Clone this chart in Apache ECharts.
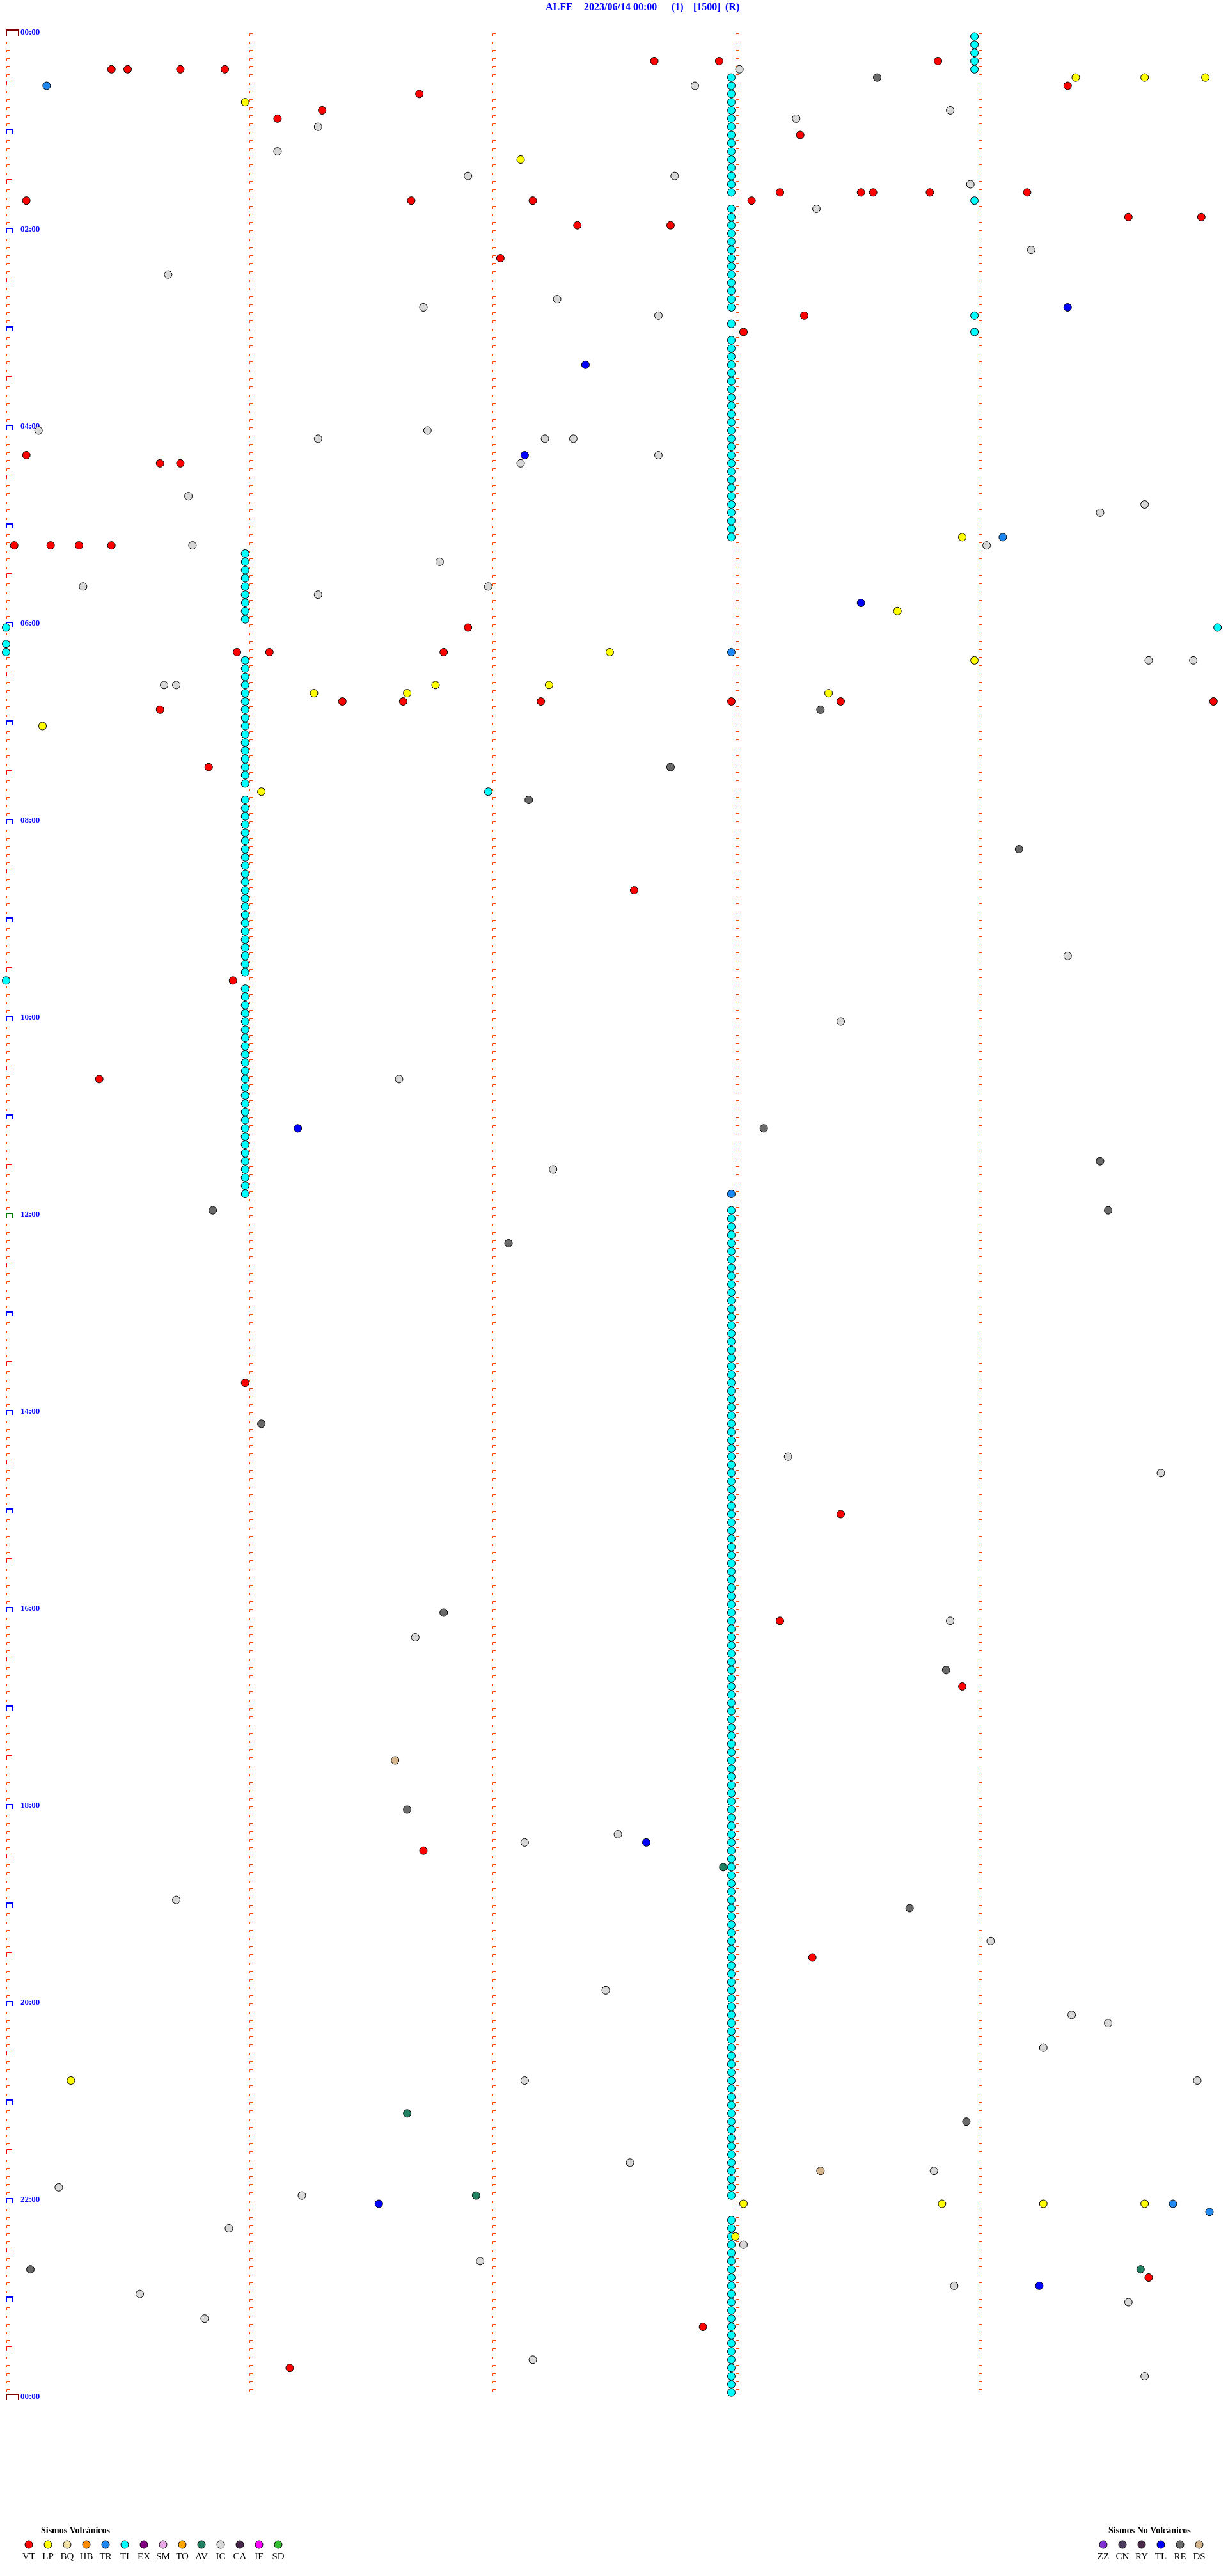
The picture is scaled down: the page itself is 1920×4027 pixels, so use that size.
<!DOCTYPE html>
<html><head><meta charset="utf-8">
<script src="https://cdn.jsdelivr.net/npm/echarts/dist/echarts.min.js"></script>
<style>html,body{margin:0;padding:0;background:#fff}#c{width:1920px;height:4027px}</style>
</head><body><div id="c"></div>
<script>
// ---------- header / labels ----------
const titleParts = ['ALFE', '2023/06/14 00:00', '(1)', '[1500]', '(R)'];
const hourLabels = ['00:00','02:00','04:00','06:00','08:00','10:00','12:00','14:00','16:00','18:00','20:00','22:00','00:00'];
const volcanicTypes = ['VT','LP','BQ','HB','TR','TI','EX','SM','TO','AV','IC','CA','IF','SD'];
const nonVolcanicTypes = ['ZZ','CN','RY','TL','RE','DS'];
const volcanicTitle = 'Sismos Volcánicos';
const nonVolcanicTitle = 'Sismos No Volcánicos';

// ---------- events (time of day, HH:MM:SS) ----------
const VT = ['00:17:40','00:17:56','00:18:50','00:20:26','00:20:30','00:20:43','00:20:54',
'00:34:22','00:36:42','00:46:18','00:51:07','01:03:16',
'01:38:11','01:38:31','01:38:34','01:38:48','01:39:12','01:40:05','01:41:40','01:42:10','01:43:04',
'01:54:37','01:54:55','01:57:21','01:57:44','02:17:02','02:53:17','03:03:02',
'04:15:05','04:20:38','04:20:43','05:10:02','05:10:11','05:10:18','05:10:26',
'06:01:54','06:15:57','06:16:05','06:16:48',
'06:46:23','06:46:38','06:47:12','06:47:59','06:48:26','06:49:58','06:50:38','07:25:50',
'08:42:35','09:35:56','10:35:23','13:40:59','15:03:26',
'16:08:11','16:48:56','18:26:43','19:33:19','22:49:42','23:17:52','23:41:10'];
const LP = ['00:29:24','00:29:41','00:29:56','00:40:59','01:17:07','05:08:56','05:53:40','06:17:29','06:23:59',
'06:36:46','06:37:14','06:41:16','06:41:39','06:43:23','07:00:09','07:41:03',
'20:45:16','22:03:02','22:03:51','22:04:16','22:04:41','22:23:00'];
const TR = ['00:30:10','05:09:06','06:17:59','11:47:59','22:04:48','22:09:57'];
const AV = ['18:37:57','21:06:39','21:56:56','22:44:40'];
const IC = ['00:23:01','00:32:50','00:48:53','00:53:15','00:56:17','01:11:07','01:26:54','01:27:45','01:33:58','01:48:20',
'02:14:13','02:25:40','02:42:16','02:46:43','02:52:41',
'04:00:08','04:01:44','04:06:17','04:07:13','04:07:20','04:17:41','04:22:07','04:40:45','04:49:41','04:54:30',
'05:10:46','05:14:02','05:21:47','05:35:19','05:36:59','05:41:17','06:24:42','06:24:53','06:35:39','06:35:42',
'09:24:22','10:03:26','10:36:37','11:32:15','14:28:13','14:39:45','16:08:53','16:16:41',
'18:17:31','18:22:08','18:55:42','19:24:03','19:52:28',
'20:09:23','20:14:32','20:29:16','20:47:08','20:49:54','21:37:34','21:43:49','21:50:13','21:56:13',
'22:15:55','22:28:02','22:36:57','22:53:54','22:55:33','23:04:37','23:10:49','23:37:10','23:49:41'];
const TL = ['02:49:22','03:22:23','04:17:08','05:48:31','11:06:12','18:22:38','22:01:32','22:54:15'];
const RE = ['00:28:35','06:53:21','07:27:44','07:47:09','08:19:10','11:08:07','11:29:30','11:55:51','11:59:32',
'12:17:04','14:06:03','16:01:48','16:38:52','18:01:39','19:03:43','21:13:57','22:40:06'];
const DS = ['17:31:36','21:43:21'];
const TI = ['00:03:59','00:08:59','00:13:59','00:18:59','00:23:59',
'00:27:59','00:32:59','00:37:59','00:42:59','00:47:59','00:52:59','00:57:59',
'01:02:59','01:07:59','01:12:59','01:17:59','01:22:59','01:27:59','01:32:59','01:37:59','01:43:59','01:47:59','01:52:59','01:57:59',
'02:02:59','02:07:59','02:12:59','02:17:59','02:22:59','02:27:59','02:32:59','02:37:59','02:42:59','02:47:59','02:53:59','02:57:59',
'03:03:59','03:07:59','03:12:59','03:17:59','03:22:59','03:27:59','03:32:59','03:37:59','03:42:59','03:47:59','03:52:59','03:57:59',
'04:02:59','04:07:59','04:12:59','04:17:59','04:22:59','04:27:59','04:32:59','04:37:59','04:42:59','04:47:59','04:52:59','04:57:59',
'05:02:59','05:07:59','05:15:59','05:20:59','05:25:59','05:30:59','05:35:59','05:40:59','05:45:59','05:50:59','05:55:59',
'06:00:00','06:04:59','06:10:00','06:15:00','06:20:59','06:25:59','06:30:59','06:35:59','06:40:59','06:45:59','06:50:59','06:55:59',
'07:00:59','07:05:59','07:10:59','07:15:59','07:20:59','07:25:59','07:30:59','07:35:59','07:41:59','07:45:59','07:50:59','07:55:59',
'08:00:59','08:05:59','08:10:59','08:15:59','08:20:59','08:25:59','08:30:59','08:35:59','08:40:59','08:45:59','08:50:59','08:55:59',
'09:00:59','09:05:59','09:10:59','09:15:59','09:20:59','09:25:59','09:30:59','09:35:00','09:40:59','09:45:59','09:50:59','09:55:59',
'10:00:59','10:05:59','10:10:59','10:15:59','10:20:59','10:25:59','10:30:59','10:35:59','10:40:59','10:45:59','10:50:59','10:55:59',
'11:00:59','11:05:59','11:10:59','11:15:59','11:20:59','11:25:59','11:30:59','11:35:59','11:40:59','11:45:59','11:57:59',
'12:02:59','12:07:59','12:12:59','12:17:59','12:22:59','12:27:59','12:32:59','12:37:59','12:42:59','12:47:59','12:52:59','12:57:59',
'13:02:59','13:07:59','13:12:59','13:17:59','13:22:59','13:27:59','13:32:59','13:37:59','13:42:59','13:47:59','13:52:59','13:57:59',
'14:02:59','14:07:59','14:12:59','14:17:59','14:22:59','14:27:59','14:32:59','14:37:59','14:42:59','14:47:59','14:52:59','14:57:59',
'15:02:59','15:07:59','15:12:59','15:17:59','15:22:59','15:27:59','15:32:59','15:37:59','15:42:59','15:47:59','15:52:59','15:57:59',
'16:02:59','16:07:59','16:12:59','16:17:59','16:22:59','16:27:59','16:32:59','16:37:59','16:42:59','16:47:59','16:52:59','16:57:59',
'17:02:59','17:07:59','17:12:59','17:17:59','17:22:59','17:27:59','17:32:59','17:37:59','17:42:59','17:47:59','17:52:59','17:57:59',
'18:02:59','18:07:59','18:12:59','18:17:59','18:22:59','18:27:59','18:32:59','18:37:59','18:42:59','18:47:59','18:52:59','18:57:59',
'19:02:59','19:07:59','19:12:59','19:17:59','19:22:59','19:27:59','19:32:59','19:37:59','19:42:59','19:47:59','19:52:59','19:57:59',
'20:02:59','20:07:59','20:12:59','20:17:59','20:22:59','20:27:59','20:32:59','20:37:59','20:42:59','20:47:59','20:52:59','20:57:59',
'21:02:59','21:07:59','21:12:59','21:17:59','21:22:59','21:27:59','21:32:59','21:37:59','21:42:59','21:47:59','21:52:59','21:57:59',
'22:12:59','22:17:59','22:22:59','22:27:59','22:32:59','22:37:59','22:42:59','22:47:59','22:52:59','22:57:59',
'23:02:59','23:07:59','23:12:59','23:17:59','23:22:59','23:27:59','23:32:59','23:37:59','23:42:59','23:47:59','23:52:59','23:57:59'];

const eventsByType = {VT, LP, TR, TI, AV, IC, TL, RE, DS};

// ---------- styles ----------
const typeColors = {
  VT:'#ff0000', LP:'#ffff00', BQ:'#f2e2a6', HB:'#ff8a00', TR:'#1e88f0', TI:'#00ffff', EX:'#800080',
  SM:'#e8a8e8', TO:'#ffa500', AV:'#1f7f60', IC:'#d8d8d8', CA:'#47284a', IF:'#ff00ff', SD:'#30c030',
  ZZ:'#8030d0', CN:'#4a3a5c', RY:'#4a2848', TL:'#0000ff', RE:'#6a6a6a', DS:'#d4b48a'
};
const markerStyles = [
  {w:5, h:5, c:'#ff4500', lw:1},    // every 5 min
  {w:8, h:8, c:'#ff0000', lw:1},    // half hour
  {w:10, h:8, c:'#0000ff', lw:2},   // hour
  {w:10, h:8, c:'#008000', lw:2},   // noon
  {w:19, h:10, c:'#800000', lw:2}   // midnight
];

// ---------- transforms ----------
const ROW_SEC = 300;
function toPoint(s){
  const p = s.split(':').map(Number);
  const t = p[0]*3600 + p[1]*60 + p[2];
  const row = Math.floor(t / ROW_SEC);
  return [(t - row*ROW_SEC)/60, row];
}
const markerData = [];
for (let c = 0; c < 5; c++) {
  const last = c === 0 ? 288 : 287;
  for (let r = 0; r <= last; r++) {
    let k = 0;
    if (c === 0) {
      if (r % 144 === 0) k = (r === 144 ? 3 : 4);
      else if (r % 12 === 0) k = 2;
      else if (r % 6 === 0) k = 1;
    }
    markerData.push([c, r, k]);
  }
}

const series = [{
  type:'custom', name:'marks', data: markerData, clip:false, silent:true, z:1,
  renderItem: function(params, api){
    const p = api.coord([api.value(0), api.value(1)]);
    const s = markerStyles[api.value(2)];
    const off = s.lw % 2 ? 0.5 : 0;
    const x0 = Math.round(p[0]) + off, yb = Math.round(p[1]) - 1, yt = Math.round(p[1]) - s.h + off;
    return {type:'polyline', silent:true,
      shape:{points:[[x0,yb],[x0,yt],[x0+s.w,yt],[x0+s.w,yb]]},
      style:{stroke:s.c, lineWidth:s.lw, fill:null}};
  }
}];
['TI','IC','RE','DS','AV','TL','TR','LP','VT'].forEach(function(name, i){
  series.push({
    type:'scatter', name:name, data: eventsByType[name].map(toPoint),
    symbol:'circle', symbolSize:12, clip:false, silent:true, z:2 + i,
    itemStyle:{color:typeColors[name], borderColor:'#000', borderWidth:1, opacity:1},
    emphasis:{disabled:true}
  });
});

// ---------- graphics: title + legend ----------
const graphic = [];
const titleX = [853, 913, 1050, 1084, 1134];
titleParts.forEach(function(t, i){
  graphic.push({type:'text', left:titleX[i], top:4, style:{text:t, fill:'#0000ff', font:'bold 16px "Liberation Serif", serif'}});
});
function legendBlock(types, x0, titleLeft, titleText){
  graphic.push({type:'text', left:titleLeft, top:3949, style:{text:titleText, fill:'#000', font:'bold 14px "Liberation Serif", serif'}});
  types.forEach(function(t, i){
    const cx = x0 + 30*i;
    graphic.push({type:'circle', shape:{cx:cx, cy:3978, r:6}, style:{fill:typeColors[t], stroke:'#000', lineWidth:1}});
    graphic.push({type:'text', x:cx, y:3997, style:{text:t, fill:'#000', font:'15px "Liberation Serif", serif', textAlign:'center', textVerticalAlign:'middle'}});
  });
}
legendBlock(volcanicTypes, 45, 64, volcanicTitle);
legendBlock(nonVolcanicTypes, 1725, 1733, nonVolcanicTitle);

const chart = echarts.init(document.getElementById('c'), null, {renderer:'canvas'});
chart.setOption({
  animation:false,
  backgroundColor:'#fff',
  grid:{left:0, top:57, width:1910, height:3696, containLabel:false},
  xAxis:{type:'value', min:-0.025, max:5, show:false},
  yAxis:{type:'value', inverse:true, min:0, max:288, interval:24, position:'left',
    axisLine:{show:false}, axisTick:{show:false}, splitLine:{show:false},
    axisLabel:{inside:true, margin:32, showMinLabel:true, showMaxLabel:true,
      color:'#0000ff', fontWeight:'bold', fontSize:13, fontFamily:'"Liberation Serif", serif',
      verticalAlign:'bottom', lineHeight:13,
      formatter:function(v){ return v % 24 === 0 ? hourLabels[v/24] : ''; }}},
  series: series,
  graphic: graphic
});
</script></body></html>
